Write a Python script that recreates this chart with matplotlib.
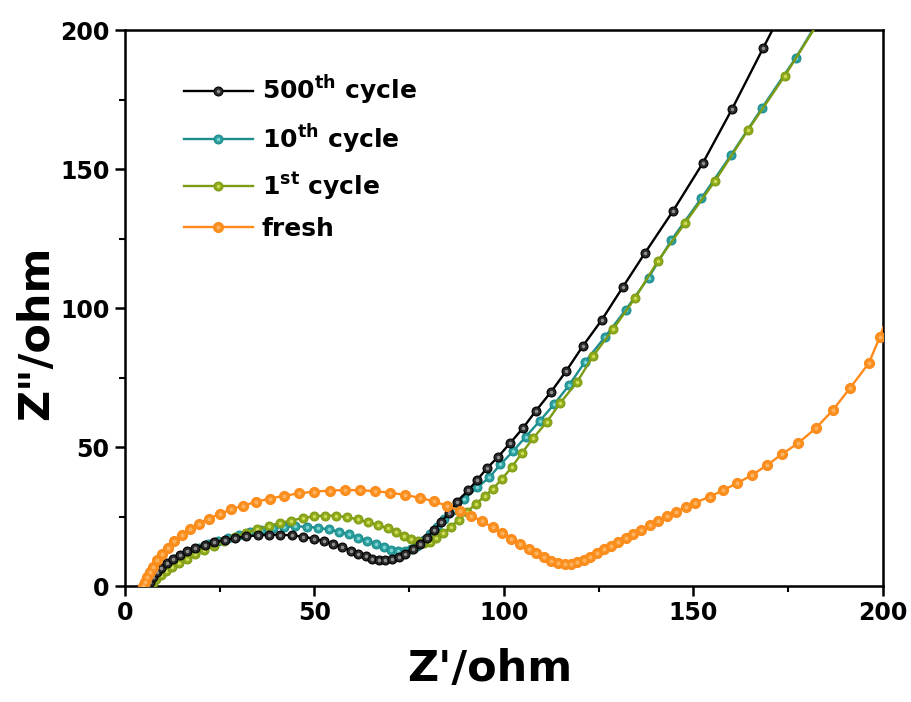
import matplotlib
matplotlib.use("Agg")
import matplotlib.pyplot as plt
from matplotlib.legend_handler import HandlerTuple
from matplotlib.ticker import MultipleLocator

plt.rcParams['font.family'] = ['DejaVu Sans']
plt.rcParams['font.weight'] = 'bold'
plt.rcParams['mathtext.fontset'] = 'dejavusans'

# ---------------- data ----------------
black_x = [6.0, 6.6, 7.4, 8.4, 9.6, 11.0, 12.6, 14.4, 16.4, 18.6, 21.0, 23.6, 26.3, 29.1, 32.0,
           35.0, 38.0, 41.0, 44.0, 47.0, 49.8, 52.5, 55.0, 57.4, 59.6, 61.6, 63.5, 65.3, 67.0,
           68.7, 70.4, 72.2, 74.0, 75.9, 77.8, 79.7, 81.6, 83.5, 85.5, 87.5, 90.6, 92.9, 95.5,
           98.4, 101.6, 105.0, 108.4, 112.4, 116.4, 120.8, 125.8, 131.4, 137.2, 144.6, 152.5,
           160.2, 168.4, 176.5]
black_y = [0, 1.6, 3.3, 5.0, 6.7, 8.3, 9.8, 11.2, 12.5, 13.7, 14.8, 15.8, 16.6, 17.3, 17.9,
           18.3, 18.5, 18.5, 18.3, 17.8, 17.1, 16.2, 15.1, 14.0, 12.8, 11.7, 10.7, 9.9, 9.4,
           9.3, 9.6, 10.4, 11.6, 13.2, 15.2, 17.5, 20.2, 23.0, 26.5, 30.2, 34.5, 38.1, 42.4,
           46.4, 51.4, 56.8, 63.0, 69.8, 77.3, 86.3, 95.7, 107.6, 119.8, 134.9, 152.2,
           171.6, 193.5, 215.0]

teal_x = [6.0, 6.7, 7.6, 8.7, 10.0, 11.5, 13.2, 15.1, 17.2, 19.5, 22.0, 24.6, 27.3, 30.1, 33.0,
          36.0, 39.0, 42.0, 45.0, 48.0, 51.0, 53.8, 56.5, 59.1, 61.6, 64.0, 66.3, 68.4, 70.3,
          72.1, 73.8, 75.5, 77.2, 78.9, 80.6, 82.3, 84.2, 86.6, 89.6, 93.0, 96.2, 99.1, 102.4,
          105.8, 109.5, 113.3, 117.2, 121.3, 126.6, 132.2, 138.2, 144.2, 152.1, 159.9, 168.1,
          177.0, 183.7]
teal_y = [0, 1.5, 3.1, 4.8, 6.5, 8.1, 9.6, 11.0, 12.4, 13.7, 15.0, 16.3, 17.4, 18.5, 19.5,
          20.3, 20.9, 21.3, 21.5, 21.4, 21.0, 20.4, 19.6, 18.6, 17.5, 16.3, 15.1, 14.0, 13.1,
          12.6, 12.6, 13.2, 14.6, 16.5, 18.8, 21.3, 24.2, 27.5, 31.3, 35.5, 39.2, 43.8, 48.5,
          53.8, 59.5, 65.5, 72.3, 80.5, 89.5, 99.5, 111.0, 124.5, 139.5, 155.0, 172.0,
          190.0, 205.0]

green_x = [6.5, 7.3, 8.3, 9.5, 10.9, 12.5, 14.3, 16.3, 18.5, 20.9, 23.5, 26.2, 29.0, 31.9, 34.9,
           37.9, 40.9, 43.9, 46.9, 49.9, 52.9, 55.8, 58.7, 61.5, 64.2, 66.8, 69.3, 71.6, 73.7,
           75.6, 77.3, 78.9, 80.5, 82.2, 84.0, 86.0, 88.1, 90.3, 92.6, 94.9, 97.1, 99.5, 102.1,
           104.7, 107.7, 111.3, 114.8, 119.3, 123.5, 128.8, 134.6, 140.6, 147.8, 155.7, 164.4,
           174.1, 184.0]
green_y = [0, 1.2, 2.5, 3.9, 5.3, 6.8, 8.3, 9.8, 11.4, 13.0, 14.6, 16.2, 17.7, 19.1, 20.4,
           21.6, 22.7, 23.6, 24.5, 25.1, 25.4, 25.3, 24.8, 24.0, 23.0, 22.0, 20.8, 19.5, 18.2,
           17.0, 16.1, 15.7, 16.0, 17.2, 19.1, 21.4, 23.9, 26.8, 29.6, 32.3, 35.0, 38.6, 42.8,
           47.8, 53.2, 59.0, 65.8, 73.4, 82.7, 92.4, 103.6, 116.9, 130.6, 145.7, 164.0,
           183.5, 205.0]

fresh_x = [4.7, 5.2, 5.8, 6.5, 7.4, 8.5, 9.8, 11.3, 13.0, 15.0, 17.2, 19.6, 22.2, 25.0, 28.0,
           31.2, 34.6, 38.2, 42.0, 46.0, 50.0, 54.0, 58.0, 62.0, 66.0, 70.0, 74.0, 77.8, 81.5,
           85.0, 88.3, 91.4, 94.3, 97.0, 99.6, 102.0, 104.3, 106.5, 108.6, 110.6, 112.5, 114.3,
           116.0, 117.7, 119.4, 121.1, 122.8, 124.6, 126.4, 128.3, 130.2, 132.2, 134.2, 136.3,
           138.5, 140.8, 143.1, 145.5, 148.0, 150.4, 154.4, 157.8, 161.5, 165.4, 169.4, 173.4,
           177.6, 182.3, 186.8, 191.3, 196.3, 199.2, 202.0]
fresh_y = [0, 1.5, 3.2, 5.0, 7.0, 9.3, 11.6, 13.9, 16.2, 18.4, 20.5, 22.5, 24.3, 26.0, 27.6,
           29.0, 30.3, 31.5, 32.5, 33.4, 34.0, 34.4, 34.6, 34.5, 34.2, 33.6, 32.8, 31.8, 30.5,
           28.9, 27.2, 25.3, 23.3, 21.2, 19.1, 17.1, 15.2, 13.4, 11.8, 10.4, 9.2, 8.4,
           8.0, 8.1, 8.6, 9.4, 10.6, 11.9, 13.2, 14.6, 15.9, 17.4, 18.8, 20.3,
           21.9, 23.5, 25.2, 26.8, 28.5, 30.0, 32.2, 34.5, 37.0, 39.9, 43.5, 47.5,
           51.4, 56.8, 63.3, 71.2, 80.2, 89.6, 100.0]

labels = [r'500$^{\mathbf{th}}$ cycle', r'10$^{\mathbf{th}}$ cycle',
          r'1$^{\mathbf{st}}$ cycle', 'fresh']

# ---------------- figure ----------------
fig = plt.figure(figsize=(9.12, 7.02), dpi=100)
ax = fig.add_axes([0.137, 0.165, 0.831, 0.792])

series = [
    # x, y, line color, marker face, highlight, size, zorder
    (teal_x, teal_y, '#1c8c8c', '#2a9e9e', '#7fd4d4', 6.4, 2),
    (green_x, green_y, '#7d9b12', '#8eaa1c', '#cfdc55', 6.4, 3),
    (black_x, black_y, '#000000', '#2a2a2a', '#909090', 6.4, 4),
    (fresh_x, fresh_y, '#ff8a1a', '#f88f1e', '#ffb360', 7.2, 5),
]
handles = []
for x, y, lc, fc, hc, ms, z in series:
    ln, = ax.plot(x, y, '-', color=lc, lw=1.7, marker='o', ms=ms,
                  mfc=fc, mec=lc, mew=0.8, zorder=z)
    dt, = ax.plot(x, y, 'o', color=hc, ms=ms * 0.4, mew=0, zorder=z + 0.5)
    handles.append((ln, dt))

# legend order: black, teal, green, fresh
leg_handles = [handles[2], handles[0], handles[1], handles[3]]
ax.legend(leg_handles, labels, handler_map={tuple: HandlerTuple(ndivide=1)},
          loc='upper left', bbox_to_anchor=(0.078, 0.922), frameon=False,
          prop={'size': 18, 'weight': 'bold'}, handlelength=2.75,
          handletextpad=0.35, labelspacing=0.6, borderpad=0, borderaxespad=0)

ax.set_xlim(0, 200)
ax.set_ylim(0, 200)
ax.xaxis.set_major_locator(MultipleLocator(50))
ax.yaxis.set_major_locator(MultipleLocator(50))
ax.xaxis.set_minor_locator(MultipleLocator(25))
ax.yaxis.set_minor_locator(MultipleLocator(25))
ax.tick_params(which='major', direction='out', length=7, width=1.8, labelsize=17,
               top=False, right=False, pad=4)
ax.tick_params(which='minor', direction='out', length=4, width=1.5,
               top=False, right=False)
for lab in ax.get_xticklabels() + ax.get_yticklabels():
    lab.set_fontweight('bold')
for sp in ax.spines.values():
    sp.set_linewidth(1.8)

ax.set_xlabel("Z'/ohm", fontsize=31, fontweight='bold')
ax.set_ylabel('Z"/ohm', fontsize=31, fontweight='bold')
ax.xaxis.set_label_coords(0.481, -0.112)
ax.yaxis.set_label_coords(-0.09, 0.455)

fig.savefig('out.png', dpi=100)
